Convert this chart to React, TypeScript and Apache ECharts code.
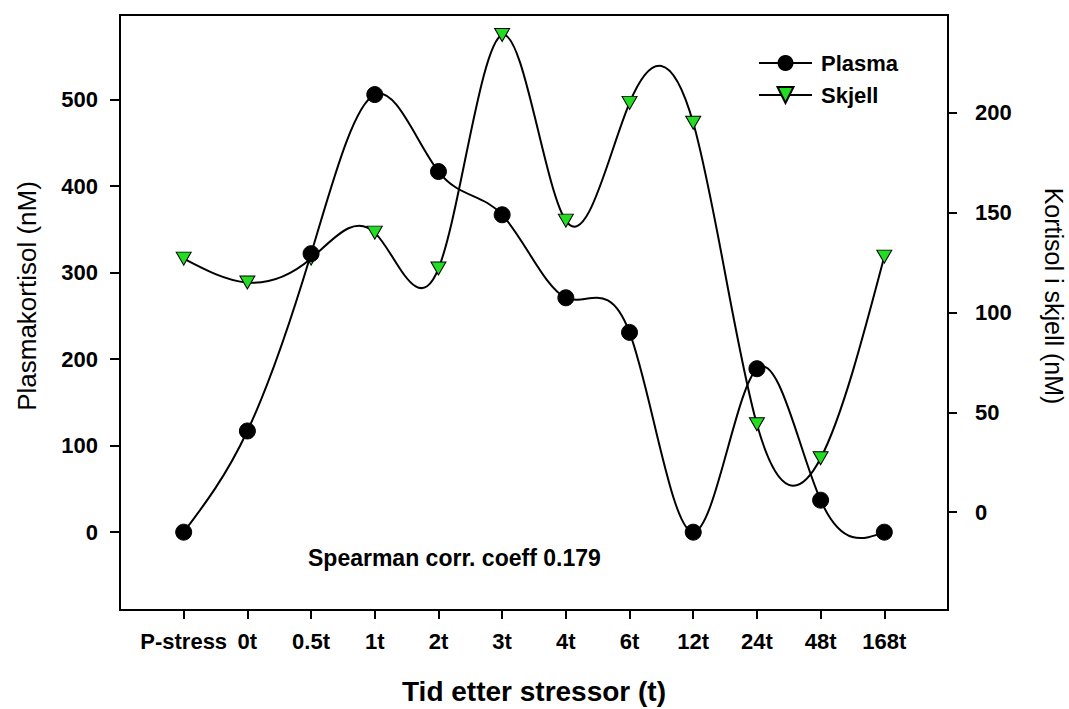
import React, { useEffect, useRef } from "react";
import * as echarts from "echarts";

const categories = ["P-stress", "0t", "0.5t", "1t", "2t", "3t", "4t", "6t", "12t", "24t", "48t", "168t"];
const plasma = [0, 117, 322, 506, 417, 367, 271, 231, 0, 189, 37, 0];
const skjell = [127, 115, 127, 140, 122, 239, 146, 205, 195, 44, 27, 128];
const leftTicks = [0, 100, 200, 300, 400, 500];
const rightTicks = [0, 50, 100, 150, 200];

const FONT = "'Liberation Sans', Arial, sans-serif";
const GREEN = "#22dd22";

// Natural cubic spline through pixel points, returned as an SVG path of cubic beziers
function splinePath(pts: number[][]): string {
  const n = pts.length;
  if (n < 2) return "";
  const h: number[] = [];
  for (let i = 0; i < n - 1; i++) h.push(pts[i + 1][0] - pts[i][0]);
  const M = new Array(n).fill(0);
  if (n > 2) {
    const a: number[] = [], b: number[] = [], c: number[] = [], d: number[] = [];
    for (let i = 1; i < n - 1; i++) {
      a.push(h[i - 1]);
      b.push(2 * (h[i - 1] + h[i]));
      c.push(h[i]);
      d.push(6 * ((pts[i + 1][1] - pts[i][1]) / h[i] - (pts[i][1] - pts[i - 1][1]) / h[i - 1]));
    }
    const m = b.length;
    const cp = new Array(m).fill(0), dp = new Array(m).fill(0);
    cp[0] = c[0] / b[0];
    dp[0] = d[0] / b[0];
    for (let i = 1; i < m; i++) {
      const den = b[i] - a[i] * cp[i - 1];
      cp[i] = c[i] / den;
      dp[i] = (d[i] - a[i] * dp[i - 1]) / den;
    }
    const sol = new Array(m).fill(0);
    sol[m - 1] = dp[m - 1];
    for (let i = m - 2; i >= 0; i--) sol[i] = dp[i] - cp[i] * sol[i + 1];
    for (let i = 0; i < m; i++) M[i + 1] = sol[i];
  }
  let path = `M${pts[0][0]},${pts[0][1]}`;
  for (let i = 0; i < n - 1; i++) {
    const hi = h[i];
    const dy = (pts[i + 1][1] - pts[i][1]) / hi;
    const s0 = dy - (hi * (2 * M[i] + M[i + 1])) / 6;
    const s1 = dy + (hi * (M[i] + 2 * M[i + 1])) / 6;
    const c1x = pts[i][0] + hi / 3, c1y = pts[i][1] + (s0 * hi) / 3;
    const c2x = pts[i + 1][0] - hi / 3, c2y = pts[i + 1][1] - (s1 * hi) / 3;
    path += ` C${c1x},${c1y} ${c2x},${c2y} ${pts[i + 1][0]},${pts[i + 1][1]}`;
  }
  return path;
}

function splineSeries(values: number[], yAxisIndex: number) {
  return {
    type: "custom",
    yAxisIndex,
    silent: true,
    z: 1,
    encode: { x: 0, y: 1 },
    data: values.map((v, i) => [i, v]),
    renderItem: (params: any, api: any) => {
      if (params.dataIndex !== 0) return null;
      const pts = values.map((v, i) => api.coord([i, v]));
      return {
        type: "path",
        shape: { pathData: splinePath(pts) },
        style: { stroke: "#000", lineWidth: 2, fill: "none" },
      };
    },
  };
}

export default function App() {
  const ref = useRef<HTMLDivElement>(null);
  useEffect(() => {
    if (!ref.current) return;
    const chart = echarts.init(ref.current, null, { renderer: "svg" });
    const xIdx = categories.map((_, i) => i);
    chart.setOption({
      animation: false,
      backgroundColor: "#fff",
      grid: {
        left: 120,
        right: 121,
        top: 15,
        bottom: 99,
        show: true,
        borderColor: "#000",
        borderWidth: 2,
        backgroundColor: "transparent",
      },
      legend: {
        orient: "vertical",
        left: 758,
        top: 52,
        padding: 0,
        itemWidth: 53,
        itemHeight: 20,
        itemGap: 10,
        lineStyle: { color: "#000", width: 2, opacity: 1 },
        textStyle: { fontFamily: FONT, fontWeight: "bold", fontSize: 22, color: "#000", padding: [0, 0, 0, 4] },
        data: ["Plasma", "Skjell"],
      },
      xAxis: {
        type: "value",
        min: -1,
        max: 12,
        splitLine: { show: false },
        axisLine: { show: true, onZero: false, lineStyle: { color: "#000", width: 2 } },
        axisTick: { show: true, customValues: xIdx, length: 9, lineStyle: { color: "#000", width: 2 } },
        axisLabel: {
          customValues: xIdx,
          formatter: (v: number) => categories[Math.round(v)] ?? "",
          fontFamily: FONT,
          fontWeight: "bold",
          fontSize: 22,
          color: "#000",
          margin: 20,
        },
      },
      yAxis: [
        {
          type: "value",
          min: -90,
          max: 598,
          position: "left",
          splitLine: { show: false },
          axisLine: { show: true, onZero: false, lineStyle: { color: "#000", width: 2 } },
          axisTick: { show: true, customValues: leftTicks, length: 10, lineStyle: { color: "#000", width: 2 } },
          axisLabel: {
            customValues: leftTicks,
            fontFamily: FONT,
            fontWeight: "bold",
            fontSize: 22,
            color: "#000",
            margin: 22,
          },
        },
        {
          type: "value",
          min: -49,
          max: 249,
          position: "right",
          splitLine: { show: false },
          axisLine: { show: true, onZero: false, lineStyle: { color: "#000", width: 2 } },
          axisTick: { show: true, customValues: rightTicks, length: 9, lineStyle: { color: "#000", width: 2 } },
          axisLabel: {
            customValues: rightTicks,
            fontFamily: FONT,
            fontWeight: "bold",
            fontSize: 22,
            color: "#000",
            margin: 27,
          },
        },
      ],
      series: [
        splineSeries(plasma, 0),
        splineSeries(skjell, 1),
        {
          name: "Plasma",
          type: "line",
          yAxisIndex: 0,
          data: plasma.map((v, i) => [i, v]),
          symbol: "circle",
          symbolSize: 16,
          lineStyle: { color: "#000", width: 2, opacity: 0 },
          itemStyle: { color: "#000", borderColor: "#000" },
          z: 4,
        },
        {
          name: "Skjell",
          type: "line",
          yAxisIndex: 1,
          data: skjell.map((v, i) => [i, v]),
          symbol: "triangle",
          symbolRotate: 180,
          symbolSize: [15, 13],
          lineStyle: { color: "#000", width: 2, opacity: 0 },
          itemStyle: { color: GREEN, borderColor: "#000", borderWidth: 1 },
          z: 3,
        },
      ],
      graphic: [
        {
          type: "text",
          left: 308,
          top: 546,
          style: { text: "Spearman corr. coeff 0.179", font: `bold 23px ${FONT}`, fill: "#000" },
        },
        {
          type: "text",
          x: 534,
          y: 691,
          style: { text: "Tid etter stressor (t)", font: `bold 28px ${FONT}`, fill: "#000", align: "center", verticalAlign: "middle" },
        },
        {
          type: "text",
          x: 27,
          y: 296,
          rotation: Math.PI / 2,
          style: { text: "Plasmakortisol (nM)", font: `26px ${FONT}`, fill: "#000", align: "center", verticalAlign: "middle" },
        },
        {
          type: "text",
          x: 1054,
          y: 296,
          rotation: -Math.PI / 2,
          style: { text: "Kortisol i skjell (nM)", font: `25px ${FONT}`, fill: "#000", align: "center", verticalAlign: "middle" },
        },
      ],
    });
    return () => chart.dispose();
  }, []);
  return <div ref={ref} style={{ width: 1069, height: 709, position: "absolute", left: 0, top: 0 }} />;
}
